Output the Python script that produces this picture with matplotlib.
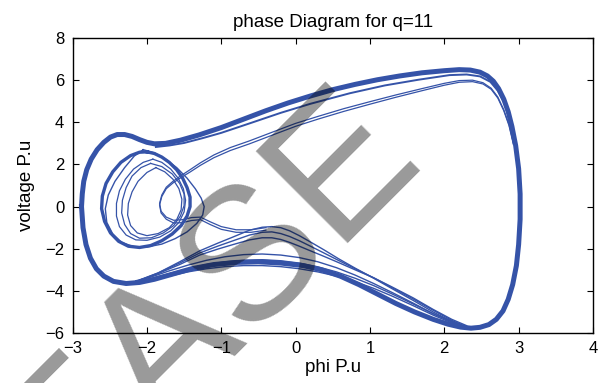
import matplotlib
matplotlib.use("Agg")
import matplotlib.pyplot as plt

plt.rcParams['font.family'] = ['Liberation Sans', 'DejaVu Sans']

# big orbit: outer left lobe, upper band, right side, bottom, lower band
outer_phi = [-2.88, -2.87, -2.85, -2.81, -2.75, -2.67, -2.58, -2.49, -2.40, -2.30, -2.20, -2.10, -2.00,
             -1.90, -1.75, -1.55, -1.30, -1.00, -0.70, -0.40, -0.10, 0.20, 0.50, 0.80, 1.10, 1.40,
             1.70, 2.00, 2.20, 2.35, 2.48, 2.58, 2.66, 2.73, 2.80, 2.86, 2.91, 2.96, 3.00, 3.02,
             3.02, 3.00, 2.97, 2.92, 2.86, 2.79, 2.70, 2.60, 2.48, 2.36, 2.22, 2.05, 1.85, 1.60,
             1.35, 1.10, 0.85, 0.60, 0.35, 0.10, -0.20, -0.50, -0.80, -1.10, -1.40, -1.65, -1.90,
             -2.10, -2.28, -2.45, -2.58, -2.68, -2.76, -2.82, -2.86, -2.88]
outer_v = [0.00, 0.60, 1.20, 1.75, 2.25, 2.70, 3.05, 3.30, 3.42, 3.42, 3.33, 3.18, 3.05,
           2.98, 3.00, 3.15, 3.40, 3.75, 4.15, 4.55, 4.92, 5.25, 5.55, 5.80, 6.02, 6.20,
           6.35, 6.45, 6.50, 6.48, 6.38, 6.20, 5.95, 5.60, 5.10, 4.50, 3.80, 2.90, 1.80, 0.60,
           -0.60, -1.80, -2.80, -3.70, -4.40, -4.95, -5.35, -5.60, -5.73, -5.77, -5.72, -5.58, -5.35, -5.00,
           -4.60, -4.15, -3.70, -3.30, -3.00, -2.80, -2.68, -2.62, -2.65, -2.75, -2.95, -3.20, -3.45,
           -3.60, -3.65, -3.55, -3.30, -2.95, -2.45, -1.80, -1.00, 0.00]

# small teardrop off the hump that leaves for the right side (two passes)
escape1_phi = [-0.40, -0.60, -0.80, -1.00, -1.15, -1.28, -1.40, -1.52, -1.64, -1.74, -1.81, -1.83, -1.80,
               -1.74, -1.65, -1.55, -1.42, -1.28, -1.10, -0.88, -0.62, -0.30, 0.00, 0.30, 0.65, 1.00,
               1.35, 1.70, 2.00, 2.20, 2.38, 2.52, 2.63, 2.72, 2.80, 2.87, 2.93]
escape1_v = [-1.00, -1.10, -1.10, -0.95, -0.72, -0.50, -0.52, -0.62, -0.65, -0.50, -0.22, 0.15, 0.55,
             0.92, 1.20, 1.45, 1.75, 2.08, 2.45, 2.80, 3.12, 3.55, 3.95, 4.28, 4.65, 4.98,
             5.30, 5.60, 5.85, 5.98, 6.00, 5.88, 5.62, 5.20, 4.60, 3.90, 3.00]
escape1b_v = [-1.12, -1.22, -1.22, -1.08, -0.85, -0.62, -0.66, -0.76, -0.78, -0.60, -0.30, 0.08, 0.48,
              0.85, 1.12, 1.36, 1.64, 1.96, 2.32, 2.66, 2.98, 3.41, 3.81, 4.15, 4.52, 4.86,
              5.19, 5.50, 5.76, 5.90, 5.93, 5.82, 5.57, 5.15, 4.55, 3.85, 2.95]
# line just under the thick upper band
escape2_phi = [-1.88, -1.70, -1.50, -1.25, -1.00, -0.61, -0.20, 0.20, 0.73, 1.20, 1.65, 2.07, 2.30,
               2.48, 2.62, 2.72, 2.81, 2.88, 2.94]
escape2_v = [2.83, 2.90, 3.02, 3.25, 3.50, 3.96, 4.45, 4.88, 5.38, 5.75, 6.02, 6.24, 6.27,
             6.18, 5.92, 5.50, 4.90, 4.20, 3.40]

# lower lines over the hump near phi=-0.25
hump_phi = [2.30, 2.10, 1.85, 1.58, 1.30, 1.05, 0.80, 0.58, 0.38, 0.20, 0.05, -0.08, -0.20, -0.32,
            -0.45, -0.62, -0.84, -1.05, -1.29, -1.56, -1.85, -2.10]
hump1_v = [-5.75, -5.45, -5.00, -4.45, -3.90, -3.40, -2.92, -2.48, -2.05, -1.68, -1.38, -1.15, -1.00, -0.95,
           -0.98, -1.12, -1.44, -1.74, -2.10, -2.62, -3.15, -3.50]
hump2_v = [-5.70, -5.40, -4.92, -4.38, -3.85, -3.38, -2.95, -2.56, -2.20, -1.88, -1.62, -1.42, -1.28, -1.20,
           -1.22, -1.35, -1.62, -1.88, -2.20, -2.68, -3.15, -3.48]
hump3_v = [-5.65, -5.35, -4.88, -4.33, -3.82, -3.38, -3.00, -2.66, -2.36, -2.10, -1.88, -1.70, -1.56, -1.48,
           -1.48, -1.58, -1.80, -2.02, -2.30, -2.75, -3.18, -3.50]

# flatter lower lines
flat_phi = [2.30, 2.10, 1.85, 1.58, 1.30, 1.05, 0.80, 0.55, 0.30, 0.05, -0.20, -0.45, -0.70, -0.95,
            -1.20, -1.45, -1.70, -1.95, -2.15]
flat1_v = [-5.75, -5.48, -5.08, -4.58, -4.08, -3.65, -3.25, -2.90, -2.62, -2.42, -2.30, -2.25, -2.28, -2.38,
           -2.55, -2.78, -3.05, -3.35, -3.52]
flat2_v = [-5.72, -5.45, -5.08, -4.62, -4.15, -3.75, -3.40, -3.10, -2.86, -2.68, -2.57, -2.52, -2.55, -2.62,
           -2.75, -2.95, -3.18, -3.42, -3.56]
flat3_v = [-5.78, -5.52, -5.15, -4.70, -4.25, -3.88, -3.56, -3.30, -3.10, -2.95, -2.85, -2.80, -2.80, -2.85,
           -2.95, -3.10, -3.30, -3.50, -3.60]

# middle left lobe
mid_phi = [-2.00, -1.90, -1.80, -1.70, -1.60, -1.52, -1.46, -1.42, -1.42, -1.46, -1.54, -1.66, -1.80,
           -1.95, -2.10, -2.25, -2.38, -2.49, -2.57, -2.61, -2.60, -2.55, -2.46, -2.35, -2.22, -2.10, -2.00]
mid_v = [2.60, 2.52, 2.35, 2.10, 1.75, 1.35, 0.90, 0.45, 0.00, -0.45, -0.90, -1.30, -1.62,
         -1.85, -1.94, -1.88, -1.65, -1.25, -0.70, -0.10, 0.50, 1.10, 1.65, 2.10, 2.42, 2.58, 2.60]
mid2_phi = [-2.05, -1.90, -1.75, -1.60, -1.46, -1.35, -1.27, -1.23, -1.25, -1.33, -1.46, -1.62, -1.80,
            -2.00, -2.18, -2.34, -2.46, -2.54, -2.56, -2.52, -2.43, -2.30, -2.17, -2.05]
mid2_v = [2.70, 2.55, 2.25, 1.85, 1.35, 0.85, 0.40, 0.00, -0.40, -0.80, -1.20, -1.52, -1.78,
          -1.92, -1.90, -1.70, -1.30, -0.75, -0.10, 0.55, 1.20, 1.85, 2.40, 2.70]

# inner loops
inner1_phi = [-1.92, -1.80, -1.68, -1.58, -1.51, -1.48, -1.50, -1.57, -1.68, -1.83, -2.00, -2.15, -2.28,
              -2.37, -2.41, -2.41, -2.37, -2.29, -2.18, -2.05, -1.92]
inner1_v = [2.25, 2.10, 1.78, 1.35, 0.85, 0.30, -0.25, -0.75, -1.15, -1.45, -1.60, -1.58, -1.35,
            -0.95, -0.45, 0.15, 0.75, 1.30, 1.78, 2.10, 2.25]
inner2_phi = [-1.88, -1.76, -1.65, -1.57, -1.53, -1.54, -1.60, -1.70, -1.85, -2.00, -2.13, -2.22, -2.26,
              -2.25, -2.20, -2.12, -2.00, -1.88]
inner2_v = [1.85, 1.65, 1.30, 0.85, 0.35, -0.15, -0.62, -1.00, -1.28, -1.38, -1.25, -0.90, -0.40,
            0.15, 0.70, 1.20, 1.62, 1.85]
inner3_phi = [-1.95, -1.80, -1.66, -1.56, -1.50, -1.50, -1.55, -1.64, -1.78, -1.94, -2.10, -2.22, -2.30,
              -2.34, -2.33, -2.28, -2.20, -2.08, -1.95]
inner3_v = [2.05, 1.90, 1.55, 1.10, 0.60, 0.05, -0.45, -0.90, -1.25, -1.48, -1.50, -1.28, -0.85,
            -0.30, 0.30, 0.90, 1.45, 1.85, 2.05]

line_color = '#3553a8'

fig = plt.figure(figsize=(6.02, 3.83), dpi=100)
ax = fig.add_axes([0.1206, 0.1305, 0.8644, 0.7702])

ax.plot(outer_phi, outer_v, color=line_color, lw=3.6, solid_joinstyle='round')
ax.plot(mid_phi, mid_v, color=line_color, lw=2.4, solid_joinstyle='round')
ax.plot(mid2_phi, mid2_v, color=line_color, lw=1.0)
ax.plot(escape1_phi, escape1_v, color=line_color, lw=0.9)
ax.plot(escape1_phi, escape1b_v, color=line_color, lw=0.9)
ax.plot(escape2_phi, escape2_v, color=line_color, lw=1.4)
for vv in (hump1_v, hump2_v, hump3_v):
    ax.plot(hump_phi, vv, color=line_color, lw=1.0)
for vv in (flat1_v, flat2_v, flat3_v):
    ax.plot(flat_phi, vv, color=line_color, lw=1.0)
ax.plot(inner1_phi, inner1_v, color=line_color, lw=0.9)
ax.plot(inner2_phi, inner2_v, color=line_color, lw=0.9)
ax.plot(inner3_phi, inner3_v, color=line_color, lw=0.9)

ax.set_xlim(-3, 4)
ax.set_ylim(-6, 8)
ax.set_xticks(range(-3, 5))
ax.set_yticks(range(-6, 9, 2))
ax.tick_params(direction='in', top=True, right=True, length=4, labelsize=12, pad=6)
for s in ax.spines.values():
    s.set_linewidth(1.0)

ax.set_title('phase Diagram for q=11', fontsize=13.5, pad=8)
ax.set_xlabel('phi P.u', fontsize=13.5, labelpad=2)
ax.set_ylabel('voltage P.u', fontsize=13.5, labelpad=7)

# grey watermark lying over the chart
fig.text(66 / 602, 1 - 510 / 383, 'EASE', rotation=45, rotation_mode='anchor',
         ha='left', va='baseline', fontsize=136, color='black', alpha=0.4)

fig.savefig('out.png', dpi=100)
